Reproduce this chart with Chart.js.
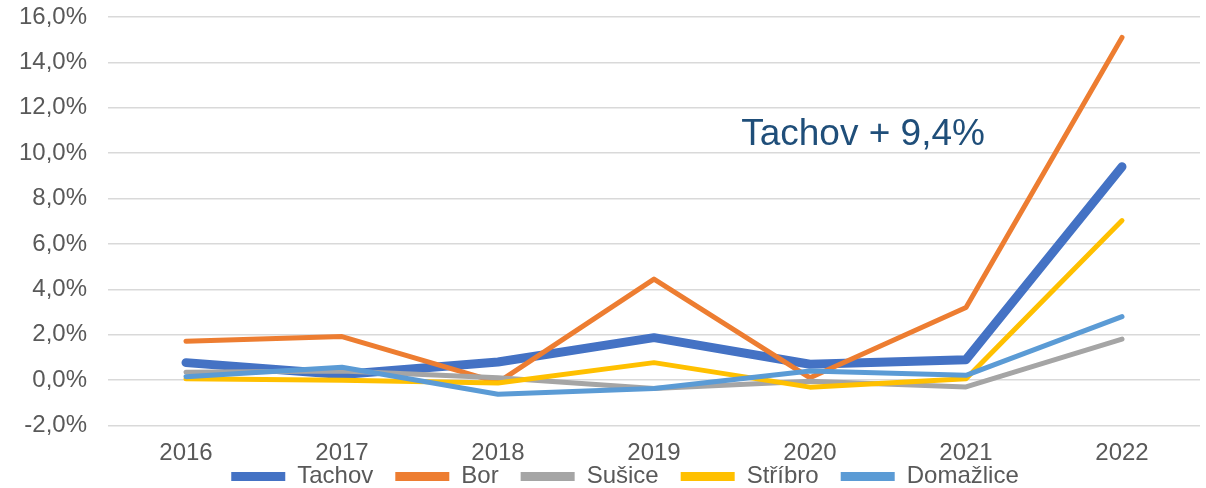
<!DOCTYPE html>
<html>
<head>
<meta charset="utf-8">
<script src="https://cdn.jsdelivr.net/npm/chart.js@4.4.1/dist/chart.umd.min.js"></script>
<style>
  html, body { margin: 0; padding: 0; background: #ffffff; }
  #wrap { width: 1206px; height: 488px; }
</style>
</head>
<body>
<div id="wrap"><canvas id="c" width="1206" height="488"></canvas></div>
<script>
const years = ['2016', '2017', '2018', '2019', '2020', '2021', '2022'];
const tachov    = [0.77, 0.25, 0.80, 1.87, 0.70, 0.90, 9.40];
const bor       = [1.71, 1.92, -0.10, 4.45, 0.10, 3.20, 15.10];
const susice    = [0.35, 0.40, 0.10, -0.37, -0.05, -0.30, 1.81];
const stribro   = [0.06, -0.01, -0.13, 0.77, -0.31, 0.06, 7.03];
const domazlice = [0.15, 0.57, -0.62, -0.37, 0.40, 0.21, 2.80];
const seriesNames = ['Tachov', 'Bor', 'Sušice', 'Stříbro', 'Domažlice'];
const annotationText = 'Tachov + 9,4%';
const yMin = -2, yMax = 16, yStep = 2;

const colors = ['#4472C4', '#ED7D31', '#A5A5A5', '#FFC000', '#5B9BD5'];
const widths = [9, 5, 5, 5, 5];
const allValues = [tachov, bor, susice, stribro, domazlice];

const FONT = '"Liberation Sans", Arial, sans-serif';
const TICK_SIZE = 24;

const datasets = allValues.map((vals, i) => ({
  label: seriesNames[i],
  data: vals,
  borderColor: colors[i],
  backgroundColor: colors[i],
  borderWidth: widths[i],
  borderCapStyle: 'round',
  borderJoinStyle: 'round',
  pointRadius: 0,
  pointHoverRadius: 0,
  tension: 0,
  fill: false,
  order: allValues.length - 1 - i
}));

// let the axis labels spill outside their (narrow) layout boxes without being clipped
const unclipPlugin = {
  id: 'unclip',
  afterLayout(chart) {
    chart.scales.y.left = 0;
    chart.scales.x.bottom = chart.height;
  }
};

const annotationPlugin = {
  id: 'annot',
  afterDatasetsDraw(chart) {
    const {ctx, scales: {x, y}} = chart;
    ctx.save();
    ctx.font = '37px ' + FONT;
    ctx.fillStyle = '#1F4E79';
    ctx.textAlign = 'center';
    ctx.textBaseline = 'alphabetic';
    ctx.fillText(annotationText, x.getPixelForValue(4.34), y.getPixelForValue(10.35));
    ctx.restore();
  }
};

new Chart(document.getElementById('c'), {
  type: 'line',
  data: { labels: years, datasets },
  options: {
    responsive: false,
    animation: false,
    events: [],
    layout: { padding: { left: 50, right: 6, top: 17, bottom: -10.5 } },
    plugins: {
      legend: {
        position: 'bottom',
        align: 'center',
        labels: {
          color: '#595959',
          font: { family: FONT, size: TICK_SIZE },
          boxWidth: 54,
          boxHeight: 9,
          padding: 22,
          useBorderRadius: true,
          borderRadius: 4.5,
          sort: (a, b) => a.datasetIndex - b.datasetIndex,
          generateLabels(chart) {
            return chart.data.datasets.map((ds, i) => ({
              text: ds.label,
              fillStyle: ds.borderColor,
              strokeStyle: ds.borderColor,
              lineWidth: 0,
              hidden: false,
              datasetIndex: i,
              fontColor: '#595959'
            }));
          }
        }
      },
      tooltip: { enabled: false },
      title: { display: false }
    },
    scales: {
      x: {
        offset: true,
        grid: { display: false, drawTicks: false },
        border: { display: false },
        ticks: { color: '#595959', font: { family: FONT, size: TICK_SIZE }, padding: 13, maxRotation: 0 },
        afterFit(scale) { scale.height = 17; }
      },
      y: {
        min: yMin,
        max: yMax,
        grid: { color: '#D9D9D9', lineWidth: 1.5, drawTicks: false },
        border: { display: false },
        ticks: {
          stepSize: yStep,
          color: '#595959',
          font: { family: FONT, size: TICK_SIZE },
          padding: 21,
          callback: (v) => v.toFixed(1).replace('.', ',') + '%'
        },
        afterFit(scale) { scale.width = 58; scale.paddingTop = 0; scale.paddingBottom = 0; }
      }
    }
  },
  plugins: [unclipPlugin, annotationPlugin]
});
</script>
</body>
</html>
